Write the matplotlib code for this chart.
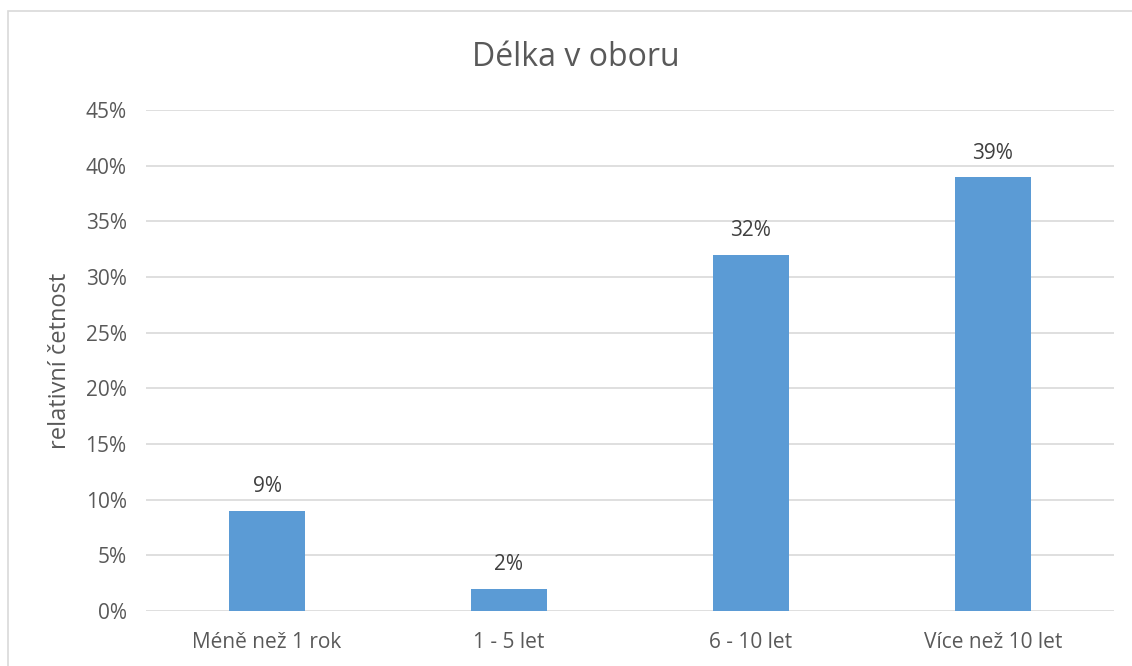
import matplotlib.pyplot as plt
from matplotlib.patches import Rectangle
from matplotlib.ticker import PercentFormatter

categories = ['Méně než 1 rok', '1 - 5 let', '6 - 10 let', 'Více než 10 let']
values = [9, 2, 32, 39]
yticks = [0, 5, 10, 15, 20, 25, 30, 35, 40, 45]

plt.rcParams['font.family'] = ['Open Sans', 'DejaVu Sans']

fig = plt.figure(figsize=(11.32, 6.66), dpi=100)
ax = fig.add_axes([0.129, 0.0826, 0.855, 0.752])

# chart border (Excel style)
fig.patches.append(Rectangle((8 / 1132, -0.1), 1.2, 1 - 11 / 666 + 0.1,
                             transform=fig.transFigure, fill=False,
                             edgecolor='#d9d9d9', linewidth=1.2))

x = range(len(categories))
bars = ax.bar(x, values, width=0.315, color='#5b9bd5', zorder=3)
for b, v in zip(bars, values):
    ax.text(b.get_x() + b.get_width() / 2, v + 1.2, '{}%'.format(v),
            ha='center', va='bottom', fontsize=15, color='#404040')

ax.set_xlim(-0.5, len(categories) - 0.5)
ax.set_ylim(0, 45)
ax.set_yticks(yticks)
ax.yaxis.set_major_formatter(PercentFormatter(decimals=0))
ax.set_xticks(list(x))
ax.set_xticklabels(categories)
ax.grid(axis='y', color='#d9d9d9', linewidth=1.2, zorder=0)
for s in ax.spines.values():
    s.set_visible(False)
ax.tick_params(length=0, labelsize=15, labelcolor='#595959', pad=14)
ax.tick_params(axis='x', pad=15)

ax.set_ylabel('relativní četnost', fontsize=17, color='#595959', labelpad=10)
fig.text(576 / 1132, 1 - 57 / 666, 'Délka v oboru', fontsize=23,
         color='#595959', ha='center', va='center')

fig.savefig('out.png', dpi=100)
